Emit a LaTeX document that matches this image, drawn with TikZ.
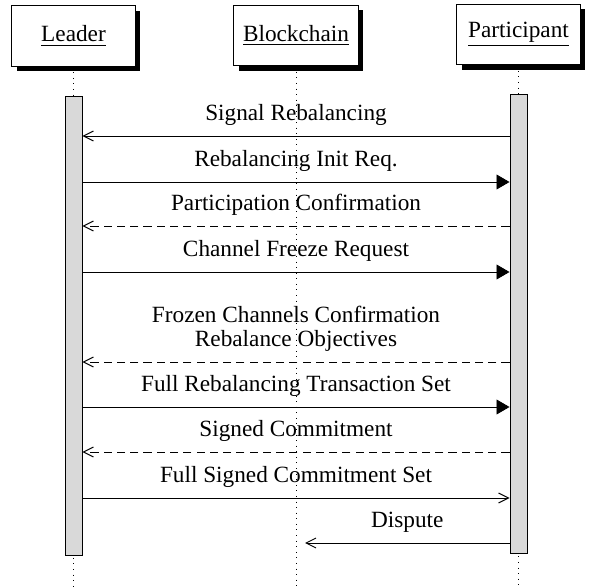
\documentclass[tikz,border=0pt]{standalone}
\usepackage{fontspec}
\setmainfont{Liberation Serif}
\usetikzlibrary{arrows.meta,shadows}

\tikzset{
  inst/.style={draw, fill=white, inner sep=4pt, minimum width=53pt, minimum height=26pt,
    drop shadow={shadow xshift=2.2pt, shadow yshift=-2.2pt, fill=black, opacity=1}},
  actbar/.style={draw, fill=gray!30, minimum width=7.3pt, minimum height=197pt, inner sep=0pt},
  lifeline/.style={dotted},
  call/.style={-{Triangle[length=5.6pt,width=6.4pt]}},
  reply/.style={-{Straight Barb[length=4.3pt,width=4.3pt]}},
  answer/.style={reply, dash pattern=on 3.5pt off 2.2pt},
  msglabel/.style={anchor=base, yshift=6.6pt, inner sep=0pt, align=center}
}

\begin{document}
\begin{tikzpicture}[x=0.43pt,y=-0.43pt]
\useasboundingbox (0,0) rectangle (590,588);
% Instances
\node[inst] (leader) at (73.5,36) {\underline{Leader}};
\node[inst] (bchain) at (296,35.5) {\underline{Blockchain}};
\node[inst] (part) at (518.5,34.5) {\underline{Participant}};
% Lifelines
\draw[lifeline] (leader) -- (leader |- 0,588);
\draw[lifeline] (bchain) -- (bchain |- 0,588);
\draw[lifeline] (part) -- (part |- 0,588);
% Activation bars
\node[actbar] (lbar) at (73.5,326) {};
\node[actbar] (pbar) at (518.5,324) {};
% Messages
\draw[reply] (pbar.west |- 0,136) -- node[msglabel] {Signal Rebalancing} (lbar.east |- 0,136);
\draw[call] (lbar.east |- 0,182) -- node[msglabel] {Rebalancing Init Req.} (pbar.west |- 0,182);
\draw[answer] (pbar.west |- 0,226) -- node[msglabel] {Participation Confirmation} (lbar.east |- 0,226);
\draw[call] (lbar.east |- 0,272) -- node[msglabel] {Channel Freeze Request} (pbar.west |- 0,272);
\draw[answer] (pbar.west |- 0,362) -- node[msglabel] {Frozen Channels Confirmation\\[-1.7pt]Rebalance Objectives} (lbar.east |- 0,362);
\draw[call] (lbar.east |- 0,407) -- node[msglabel] {Full Rebalancing Transaction Set} (pbar.west |- 0,407);
\draw[answer] (pbar.west |- 0,452) -- node[msglabel] {Signed Commitment} (lbar.east |- 0,452);
\draw[reply] (lbar.east |- 0,498) -- node[msglabel] {Full Signed Commitment Set} (pbar.west |- 0,498);
% Dispute goes to the blockchain
\coordinate (disp) at (305,543);
\draw[reply] (pbar.west |- disp) -- node[msglabel] {Dispute} (disp);
\end{tikzpicture}
\end{document}
